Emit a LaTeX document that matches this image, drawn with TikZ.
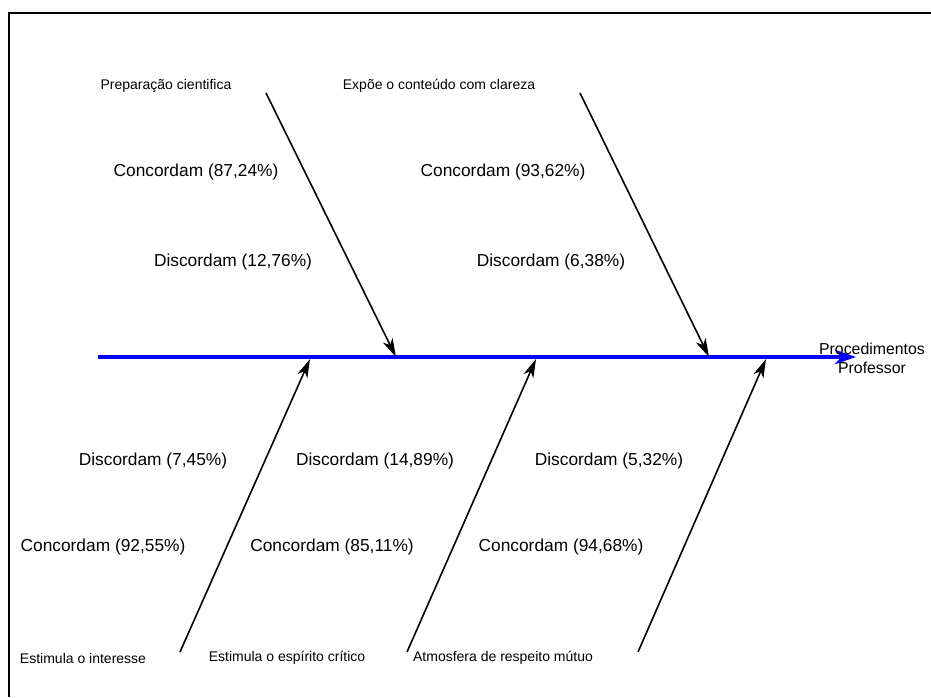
\documentclass[tikz,border=0pt]{standalone}
\usepackage{fontspec}
\setmainfont{Liberation Sans}
\usetikzlibrary{arrows.meta}

\begin{document}
\begin{tikzpicture}[x=0.75pt, y=-0.75pt,
  pct/.style={font=\fontsize{13}{15}\selectfont, inner sep=0pt},
  cause/.style={font=\fontsize{10.5}{12}\selectfont, inner sep=0pt},
  bone/.style={line width=1.2pt, -{Stealth[length=14pt,width=8pt,inset=4pt]}},
  spine/.style={draw=blue, line width=3pt, -{Stealth[length=16pt,width=11pt]}}]

\useasboundingbox (0,0) rectangle (931,697);
\draw[line width=1.5pt] (931,13) -- (9,13) -- (9,697);

% spine
\coordinate (tail) at (98,357);
\coordinate (head) at (856,357);
\draw[spine] (tail) -- (head);
\node[font=\fontsize{11.9}{14.5}\selectfont, align=center, inner sep=0pt] (effect) at (872,358) {Procedimentos\\Professor};

% upper causes
\coordinate (u1) at (266,93);   \coordinate (s1) at (396,357);
\coordinate (u2) at (580,93);   \coordinate (s2) at (709,357);
\draw[bone] (u1) -- (s1);
\draw[bone] (u2) -- (s2);

\node[cause] (prep) at (166,86) {Preparação cientifica};
\node[cause] (expoe) at (439,86) {Expõe o conteúdo com clareza};
\node[pct] (c1) at (196,172) {Concordam (87,24\%)};
\node[pct] (d1) at (233,262) {Discordam (12,76\%)};
\node[pct] (c2) at (503,172) {Concordam (93,62\%)};
\node[pct] (d2) at (551,262) {Discordam (6,38\%)};

% lower causes
\coordinate (l3) at (180,652);  \coordinate (s3) at (310,359);
\coordinate (l4) at (407,652);  \coordinate (s4) at (536,359);
\coordinate (l5) at (638,652);  \coordinate (s5) at (766,359);
\draw[bone] (l3) -- (s3);
\draw[bone] (l4) -- (s4);
\draw[bone] (l5) -- (s5);

\node[pct] (d3) at (153,461) {Discordam (7,45\%)};
\node[pct] (d4) at (375,461) {Discordam (14,89\%)};
\node[pct] (d5) at (609,461) {Discordam (5,32\%)};
\node[pct] (c3) at (103,547) {Concordam (92,55\%)};
\node[pct] (c4) at (332,547) {Concordam (85,11\%)};
\node[pct] (c5) at (561,547) {Concordam (94,68\%)};
\node[cause] (interesse) at (83,658) {Estimula o interesse};
\node[cause] (critico) at (287,658) {Estimula o espírito crítico};
\node[cause] (respeito) at (503,658) {Atmosfera de respeito mútuo};

\end{tikzpicture}
\end{document}
